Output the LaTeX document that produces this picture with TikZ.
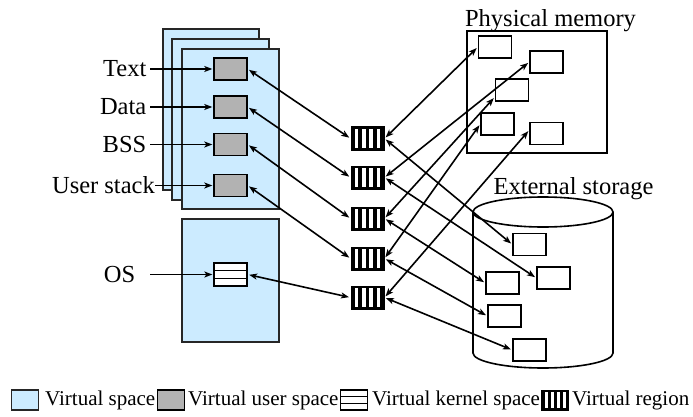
\documentclass[tikz,border=0pt]{standalone}
\usepackage{fontspec}
\setmainfont{Liberation Serif}
\usetikzlibrary{arrows.meta,calc}
\definecolor{vspace}{RGB}{204,235,255}
\definecolor{uspace}{RGB}{178,178,178}

\tikzset{
  page/.style={draw=black!85, line width=1.4pt, fill=vspace},
  ubox/.style={draw=black, line width=1.4pt, fill=uspace, minimum width=33pt, minimum height=22pt, inner sep=0pt},
  frame/.style={draw=black, line width=1.4pt, fill=white, minimum width=33pt, minimum height=22pt, inner sep=0pt},
  kernel/.style={draw=black, line width=1.3pt, fill=white, minimum width=33pt, minimum height=23pt, inner sep=0pt,
    path picture={
      \draw[line width=1.3pt] ($(path picture bounding box.north west)!1/3!(path picture bounding box.south west)$) -- ($(path picture bounding box.north east)!1/3!(path picture bounding box.south east)$);
      \draw[line width=1.3pt] ($(path picture bounding box.north west)!2/3!(path picture bounding box.south west)$) -- ($(path picture bounding box.north east)!2/3!(path picture bounding box.south east)$);
    }},
  region/.style={draw=black, line width=1pt, fill=black, minimum width=33pt, minimum height=23pt, inner sep=0pt,
    path picture={
      \foreach \k in {1,3,5,7}{
        \fill[white] ($(path picture bounding box.north west)!{\k/9}!(path picture bounding box.north east)+(0,-2.2pt)$)
          rectangle ($(path picture bounding box.south west)!{(\k+1)/9}!(path picture bounding box.south east)+(0,2.2pt)$);
      }
    }},
  lbl/.style={font=\fontsize{24.5}{28}\selectfont, inner xsep=3.5pt, inner ysep=0pt, text height=16pt, text depth=1pt},
  title/.style={font=\fontsize{24.5}{28}\selectfont, inner sep=0pt},
  legtext/.style={font=\fontsize{21}{24}\selectfont, inner sep=0pt, text height=14pt, text depth=4pt, anchor=west},
  legicon/.style={minimum width=27pt, minimum height=20pt},
  ptr/.style={line width=1.4pt, -{Stealth[length=8pt, width=6pt, inset=2pt]}, shorten >=1pt},
  link/.style={line width=1.6pt, {Stealth[length=8pt, width=6pt, inset=2pt]}-{Stealth[length=8pt, width=6pt, inset=2pt]}, shorten >=1.5pt, shorten <=1.5pt},
  cylline/.style={draw=black, line width=1.6pt}
}

\begin{document}
\begin{tikzpicture}[x=1pt, y=-1pt]
\useasboundingbox (0,0) rectangle (693,417);

% stacked virtual address spaces
\draw[page] (163,29) rectangle (259,190);
\draw[page] (172,39) rectangle (269,200);
\draw[page] (182,49) rectangle (279,209);
\draw[page] (182,219) rectangle (279,342);

% user segments and kernel part
\node[ubox] (text)  at (230.5,69)  {};
\node[ubox] (data)  at (230.5,107) {};
\node[ubox] (bss)   at (230.5,144.5) {};
\node[ubox] (stack) at (230.5,185.5) {};
\node[kernel] (os)  at (230.5,274.5) {};

% segment labels
\node[lbl, anchor=east] (ltext)  at (150,69)  {Text};
\node[lbl, anchor=east] (ldata)  at (150,107) {Data};
\node[lbl, anchor=east] (lbss)   at (150,144.5) {BSS};
\node[lbl, anchor=east, inner xsep=0pt] (lstack) at (155,185.5) {User stack};
\node[lbl, anchor=east] (los)    at (139,274.5) {OS};
\coordinate (osin) at (150,274.5);

\draw[ptr] (ltext.east)  -- (text.west);
\draw[ptr] (ldata.east)  -- (data.west);
\draw[ptr] (lbss.east)   -- (bss.west);
\draw[ptr] (lstack.east) -- (stack.west);
\draw[ptr] (osin) -- (os.west);

% virtual regions
\node[region] (r1) at (367.5,138.5) {};
\node[region] (r2) at (367.5,177.5) {};
\node[region] (r3) at (367.5,218.5) {};
\node[region] (r4) at (367.5,258.5) {};
\node[region] (r5) at (367.5,297.5) {};

% physical memory
\node[title] (pmlabel) at (550.5,21) {Physical memory};
\draw[line width=1.6pt] (467,31) rectangle (607,153);
\node[frame] (pm1) at (495,47)     {};
\node[frame] (pm2) at (546.5,62)   {};
\node[frame] (pm3) at (512,90)     {};
\node[frame] (pm4) at (497.5,124)  {};
\node[frame] (pm5) at (546.5,133.5) {};

% external storage cylinder
\node[title] (eslabel) at (573.5,189) {External storage};
\draw[cylline] (473,212) -- (473,353) arc[start angle=180, end angle=360, x radius=70pt, y radius=15pt] -- (613,212);
\draw[cylline] (543,212) ellipse[x radius=70pt, y radius=15pt];
\node[frame] (es1) at (529.5,244.5) {};
\node[frame] (es2) at (553.5,278)   {};
\node[frame] (es3) at (502.5,283)   {};
\node[frame] (es4) at (504.5,316)   {};
\node[frame] (es5) at (529.5,350)   {};

% segments to regions
\draw[link] (text.east)  -- (r1.west);
\draw[link] (data.east)  -- (r2.west);
\draw[link] (bss.east)   -- (r3.west);
\draw[link] (stack.east) -- (r4.west);
\draw[link] (os.east)    -- (r5.west);

% regions to physical memory
\draw[link] (r1.east) -- (pm1.west);
\draw[link] (r2.east) -- (pm2.west);
\draw[link] (r3.east) -- ($(pm3.south west)!0.2!(pm3.north west)$);
\draw[link] (r4.east) -- (pm4.west);
\draw[link] (r5.east) -- ($(pm5.west)!0.3!(pm5.north west)$);

% regions to external storage
\draw[link] (r1.east) -- (es1.west);
\draw[link] (r2.east) -- (es2.west);
\draw[link] (r3.east) -- (es3.west);
\draw[link] (r4.east) -- (es4.west);
\draw[link] (r5.east) -- (es5.west);

% legend
\node[page, legicon, line width=1.3pt] (k1) at (25,400) {};
\node[legtext] (t1) at (45,400) {Virtual space};
\node[ubox, legicon] (k2) at (171,400) {};
\node[legtext] (t2) at (188,400) {Virtual user space};
\node[kernel, legicon] (k3) at (354,400) {};
\node[legtext] (t3) at (372,400) {Virtual kernel space};
\node[region, legicon] (k4) at (555,400) {};
\node[legtext] (t4) at (572,400) {Virtual region};
\end{tikzpicture}
\end{document}
